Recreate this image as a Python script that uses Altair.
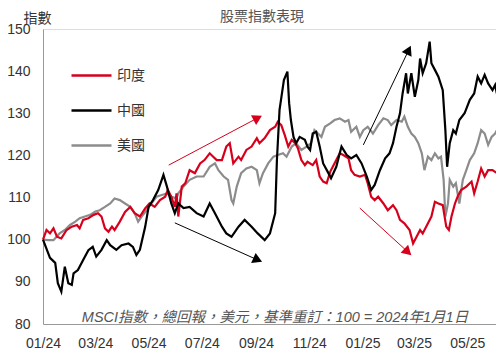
import altair as alt
import pandas as pd

BASE = pd.Timestamp("2024-01-01")

series_names = ["印度", "中國", "美國"]
series_colors = ["#d6001c", "#000000", "#8c8c8c"]

# days since 2024-01-01 and index values
india_days = [0, 4, 8, 12, 16, 21, 27, 33, 39, 42, 46, 52, 58, 63, 67, 71, 75, 79, 82, 88, 94, 100, 105, 111, 117, 122, 128, 134, 140, 143, 147, 151, 153, 155, 159, 163, 168, 174, 180, 185, 191, 195, 199, 205, 210, 214, 218, 224, 227, 233, 239, 245, 248, 254, 260, 266, 269, 273, 277, 281, 285, 289, 292, 296, 300, 303, 309, 313, 317, 321, 325, 329, 332, 336, 340, 344, 350, 353, 357, 363, 369, 372, 376, 380, 384, 390, 395, 401, 405, 409, 414, 420, 424, 428, 432, 435, 439, 445, 449, 453, 458, 462, 465, 468, 472, 475, 479, 485, 491, 494, 498, 502, 506, 510, 515, 520]
india_vals = [100.0, 102.3, 101.5, 102.7, 100.7, 100.3, 102.3, 103.1, 103.5, 102.7, 104.7, 105.1, 105.9, 106.3, 105.5, 102.7, 101.9, 103.1, 102.3, 104.3, 106.6, 107.8, 106.3, 105.5, 107.4, 108.6, 107.8, 109.4, 110.2, 111.8, 110.2, 107.8, 111.0, 105.5, 112.6, 113.4, 116.5, 115.8, 118.1, 118.9, 120.5, 119.7, 118.9, 118.9, 122.1, 122.9, 118.1, 119.7, 118.9, 121.3, 122.1, 124.1, 122.9, 124.1, 126.0, 126.8, 128.0, 127.2, 124.8, 122.1, 123.7, 122.9, 121.7, 118.9, 117.7, 118.5, 117.7, 118.9, 115.0, 113.8, 113.4, 116.1, 117.3, 118.9, 120.5, 120.1, 119.3, 116.5, 115.4, 115.0, 115.4, 113.4, 110.2, 109.4, 110.2, 108.6, 107.0, 108.2, 107.0, 104.7, 103.9, 102.3, 99.1, 100.7, 102.3, 101.5, 103.1, 105.5, 109.0, 108.6, 108.2, 103.1, 102.3, 105.5, 108.6, 110.2, 111.8, 112.6, 113.8, 111.0, 113.8, 116.9, 115.0, 116.5, 116.5, 115.8]

china_days = [0, 8, 14, 17, 21, 25, 29, 33, 35, 40, 46, 52, 57, 61, 67, 73, 77, 84, 90, 98, 103, 107, 111, 117, 121, 126, 132, 138, 142, 147, 151, 155, 161, 168, 176, 184, 191, 197, 205, 210, 216, 224, 231, 239, 246, 254, 260, 266, 268, 271, 276, 280, 282, 284, 287, 290, 294, 300, 303, 306, 309, 313, 317, 321, 327, 330, 336, 342, 348, 353, 359, 365, 371, 376, 380, 386, 392, 397, 401, 405, 409, 412, 416, 418, 422, 426, 430, 432, 435, 439, 443, 445, 449, 453, 458, 461, 463, 466, 470, 473, 477, 483, 489, 494, 498, 502, 506, 510, 515, 518, 520]
china_vals = [100.0, 95.7, 94.5, 89.7, 87.7, 93.6, 89.7, 89.3, 92.0, 92.8, 95.2, 97.5, 98.3, 96.0, 97.6, 99.9, 98.7, 97.6, 98.7, 99.1, 98.3, 96.4, 97.6, 103.0, 107.8, 109.4, 111.8, 115.4, 112.6, 108.6, 106.3, 108.6, 107.5, 107.8, 106.3, 105.5, 108.6, 106.3, 103.1, 101.5, 100.7, 103.1, 104.7, 103.1, 101.5, 99.9, 101.5, 106.3, 118.9, 130.8, 137.9, 139.9, 132.4, 128.4, 124.4, 122.9, 124.4, 123.7, 122.1, 121.3, 125.2, 125.6, 122.1, 118.1, 115.8, 114.6, 117.3, 122.1, 120.1, 119.3, 120.1, 118.1, 115.0, 111.8, 113.0, 116.5, 119.3, 120.5, 122.9, 126.8, 130.0, 134.7, 139.5, 134.7, 139.5, 133.9, 137.9, 143.0, 139.5, 141.9, 147.0, 141.9, 140.3, 138.7, 135.5, 126.0, 117.3, 122.9, 126.0, 125.2, 128.4, 130.0, 133.2, 134.7, 138.7, 137.1, 139.1, 137.1, 135.5, 136.7, 134.7]

us_days = [0, 6, 12, 19, 25, 31, 37, 42, 48, 54, 60, 65, 71, 77, 82, 88, 94, 100, 105, 109, 113, 119, 124, 130, 136, 142, 147, 153, 155, 161, 168, 176, 184, 191, 197, 201, 207, 212, 216, 218, 222, 227, 233, 239, 245, 248, 252, 258, 264, 269, 275, 279, 285, 290, 296, 302, 307, 311, 315, 319, 323, 329, 334, 340, 346, 350, 353, 359, 363, 367, 372, 378, 384, 390, 395, 399, 405, 411, 414, 418, 422, 426, 430, 434, 437, 441, 445, 449, 453, 456, 459, 461, 464, 466, 470, 473, 477, 481, 485, 489, 494, 498, 502, 506, 510, 514, 518, 520]
us_vals = [100.0, 99.9, 99.9, 101.5, 102.3, 103.5, 104.3, 105.1, 105.5, 105.9, 106.7, 107.0, 107.8, 108.6, 109.8, 109.4, 108.6, 107.8, 106.3, 104.3, 105.5, 107.0, 108.6, 110.2, 110.6, 111.0, 110.2, 109.8, 111.0, 112.6, 114.2, 115.0, 115.0, 117.3, 118.1, 116.5, 115.0, 114.2, 109.4, 108.6, 112.6, 115.8, 116.9, 117.3, 116.5, 113.4, 115.8, 118.1, 119.7, 120.1, 120.5, 119.7, 122.1, 122.9, 121.3, 122.1, 122.9, 126.0, 125.2, 124.4, 126.8, 127.6, 128.4, 128.8, 128.0, 128.4, 125.6, 126.8, 124.4, 126.0, 126.8, 125.2, 127.2, 128.8, 128.4, 127.2, 128.4, 128.0, 129.2, 126.8, 125.2, 124.4, 122.9, 120.5, 116.5, 119.7, 118.9, 120.5, 119.3, 119.7, 114.2, 105.5, 108.6, 114.2, 112.6, 113.4, 108.6, 114.2, 116.5, 118.9, 120.5, 122.9, 126.0, 125.2, 122.5, 124.4, 125.2, 126.0]

# annotation arrows (start day/value -> head day/value, head rotation)
arrow_colors = ["#d6001c", "#000000", "#000000", "#d6001c"]
arrow_start_days = [144, 151, 367, 363]
arrow_start_vals = [117.7, 104.0, 122.5, 107.5]
arrow_end_days = [246, 246, 419, 418]
arrow_end_vals = [128.9, 95.2, 145.0, 97.1]
arrow_angles = [332, 24, 296, 43]

x_tick_months = [(2024, 1), (2024, 3), (2024, 5), (2024, 7), (2024, 9), (2024, 11), (2025, 1), (2025, 3), (2025, 5)]
y_ticks = [80, 90, 100, 110, 120, 130, 140, 150]

note_text = "MSCI指數，總回報，美元，基準重訂：100 = 2024年1月1日"
title_text = "股票指數表現"

FONT = "'Liberation Sans', 'Noto Sans CJK TC', sans-serif"

def make_df(name, days, vals):
    return pd.DataFrame({
        "series": name,
        "date": [BASE + pd.Timedelta(days=d) for d in days],
        "value": vals,
    })

df = pd.concat([
    make_df("印度", india_days, india_vals),
    make_df("中國", china_days, china_vals),
    make_df("美國", us_days, us_vals),
])

arrows = pd.DataFrame({
    "color": arrow_colors,
    "d0": [BASE + pd.Timedelta(days=d) for d in arrow_start_days],
    "v0": arrow_start_vals,
    "d1": [BASE + pd.Timedelta(days=d) for d in arrow_end_days],
    "v1": arrow_end_vals,
    "angle": arrow_angles,
})

x_scale = alt.Scale(domain=[alt.DateTime(year=2024, month=1, date=1),
                            alt.DateTime(year=2025, month=6, date=3)])
y_scale = alt.Scale(domain=[80, 150], nice=False, zero=False)

x_axis = alt.Axis(
    values=[alt.DateTime(year=y, month=m, date=1) for y, m in x_tick_months],
    format="%m/%y", labelFontSize=14, labelColor="#333", ticks=False,
    labelPadding=12, domainColor="#999", grid=False, title=None,
    labelFont=FONT, labelOverlap=False, labelFlush=False,
)
y_axis = alt.Axis(
    values=y_ticks, labelFontSize=14, labelColor="#333", ticks=False,
    labelPadding=13, domainColor="#999", grid=False,
    title="指數", titleAngle=0, titleX=-20, titleY=-4, titleAlign="left",
    titleBaseline="bottom", titleFontSize=14, titleFontWeight="normal",
    titleColor="#333", labelFont=FONT, titleFont=FONT,
)

color_enc = alt.Color(
    "series:N",
    scale=alt.Scale(domain=series_names, range=series_colors),
    legend=alt.Legend(
        orient="none", legendX=27, legendY=25, title=None,
        symbolType="stroke", symbolSize=1600, symbolStrokeWidth=2.5,
        labelFontSize=14, labelColor="#333", labelFont=FONT,
        rowPadding=6, labelOffset=4, padding=0,
    ),
)

def series_layer(name):
    return alt.Chart(df).transform_filter(
        alt.datum.series == name
    ).mark_line(strokeWidth=2.2).encode(
        x=alt.X("date:T", scale=x_scale, axis=x_axis),
        y=alt.Y("value:Q", scale=y_scale, axis=y_axis),
        color=color_enc,
    )

arrow_lines = alt.Chart(arrows).mark_rule(strokeWidth=1).encode(
    x="d0:T", y="v0:Q", x2="d1:T", y2="v1:Q",
    color=alt.Color("color:N", scale=None),
)
arrow_heads = alt.Chart(arrows).mark_point(
    shape="triangle-right", filled=True, size=120, opacity=1
).encode(
    x="d1:T", y="v1:Q",
    color=alt.Color("color:N", scale=None),
    angle=alt.Angle("angle:Q", scale=None),
)

note = alt.Chart(pd.DataFrame({"t": [note_text]})).mark_text(
    fontSize=14.5, fontStyle="italic", color="#555", font=FONT,
    align="center", baseline="middle",
).encode(x=alt.value(232), y=alt.value(289), text="t:N")

title = alt.Chart(pd.DataFrame({"t": [title_text]})).mark_text(
    fontSize=14, color="#555", font=FONT, align="center", baseline="middle",
).encode(x=alt.value(219), y=alt.value(-12), text="t:N")

chart = alt.layer(
    series_layer("美國"), series_layer("印度"), series_layer("中國"),
    arrow_lines, arrow_heads, note, title,
).properties(
    width=453, height=295,
    autosize="none",
    padding={"left": 35, "top": 21, "right": 0, "bottom": 30},
).configure_view(stroke=None).configure(font=FONT)

chart.save("out.html", embed_options={"renderer": "svg", "actions": False})
